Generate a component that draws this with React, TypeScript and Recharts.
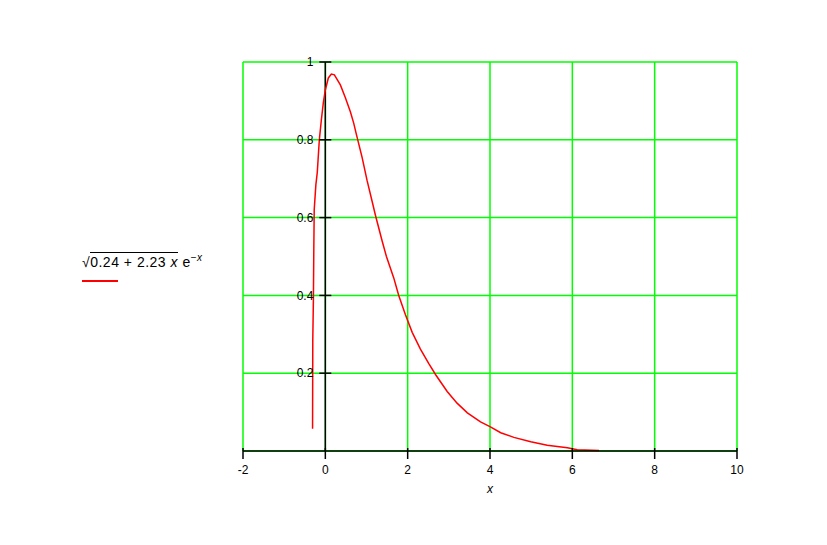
import {
  LineChart,
  Line,
  XAxis,
  YAxis,
  CartesianGrid,
  ReferenceLine,
  ReferenceDot,
} from "recharts";

// values
const xValues = [
  -0.31, -0.305, -0.29, -0.28, -0.27, -0.23, -0.195, -0.146, -0.097, -0.049, 0,
  0.073, 0.146, 0.22, 0.365, 0.487, 0.608, 0.689, 0.754, 0.893, 1.015, 1.136,
  1.217, 1.38, 1.484, 1.662, 1.783, 1.946, 2.11, 2.31, 2.51, 2.68, 2.96, 3.2,
  3.45, 3.77, 4.01, 4.26, 4.58, 4.99, 5.39, 5.88, 6.12, 6.65,
];
const yValues = [
  0.057, 0.285, 0.388, 0.517, 0.62, 0.684, 0.717, 0.8, 0.851, 0.895, 0.928,
  0.959, 0.969, 0.967, 0.941, 0.908, 0.872, 0.843, 0.814, 0.755, 0.695, 0.642,
  0.606, 0.54, 0.5, 0.445, 0.4, 0.35, 0.305, 0.262, 0.225, 0.196, 0.153,
  0.123, 0.098, 0.075, 0.062, 0.047, 0.035, 0.024, 0.015, 0.0085, 0.003, 0.001,
];
const xTicks = [-2, 0, 2, 4, 6, 8, 10];
const yTicks = [0, 0.2, 0.4, 0.6, 0.8, 1];
const yTickLabels = ["0", "0.2", "0.4", "0.6", "0.8", "1"];

const data = xValues.map((x, i) => ({ x, y: yValues[i] }));

const font = "'Liberation Sans', Arial, sans-serif";

const TickMark = (props: any) => {
  const { cx, cy } = props;
  return <line x1={cx - 6} x2={cx + 6} y1={cy} y2={cy} stroke="#000" strokeWidth={1.5} />;
};

// x ticks cross the axis on both sides, label below
const XTick = (props: any) => {
  const { x, y, payload } = props;
  return (
    <g>
      <line x1={x} x2={x} y1={y - 10} y2={y + 1} stroke="#000" strokeWidth={1.5} />
      <text x={x} y={y + 16} textAnchor="middle" fill="#000" fontSize={12} fontFamily={font}>
        {payload.value}
      </text>
    </g>
  );
};

export default function App() {
  return (
    <div style={{ position: "absolute", left: 0, top: 0, width: 827, height: 545, background: "#fff" }}>
      <LineChart
        width={827}
        height={545}
        data={data}
        margin={{ top: 62, right: 90, left: 243, bottom: 49 }}
      >
        <CartesianGrid stroke="#00ff00" strokeWidth={1.5} />
        <XAxis
          dataKey="x"
          type="number"
          domain={[-2, 10]}
          ticks={xTicks}
          height={45}
          axisLine={{ stroke: "#000", strokeWidth: 1.5 }}
          tickLine={false}
          tickSize={5}
          tick={XTick}
          label={{ value: "x", position: "insideBottom", offset: 3, fill: "#000", fontSize: 12, fontFamily: font, fontStyle: "italic" }}
        />
        <YAxis type="number" domain={[0, 1]} ticks={yTicks} hide />
        <ReferenceLine x={0} stroke="#000" strokeWidth={1.5} />
        {yTicks.slice(1).map((v, i) => (
          <ReferenceDot
            key={v}
            x={0}
            y={v}
            r={6}
            shape={TickMark}
            label={{ value: yTickLabels[i + 1], position: "left", offset: 6, fill: "#000", fontSize: 12, fontFamily: font }}
          />
        ))}
        <Line
          type="linear"
          dataKey="y"
          stroke="#ff0000"
          strokeWidth={1.5}
          dot={false}
          isAnimationActive={false}
        />
      </LineChart>
      <div style={{ position: "absolute", left: 82, top: 249, fontFamily: font, fontSize: 14, color: "#000" }}>
        <div style={{ whiteSpace: "nowrap", lineHeight: "18px", letterSpacing: 0.5 }}>
          <span>√</span>
          <span style={{ borderTop: "1px solid #000", paddingTop: 1 }}>0.24 + 2.23 <i>x</i></span>
          <span> e</span>
          <sup style={{ fontSize: 10 }}>−<i>x</i></sup>
        </div>
        <div style={{ width: 36, height: 2, background: "#ff0000", marginTop: 9 }} />
      </div>
    </div>
  );
}
